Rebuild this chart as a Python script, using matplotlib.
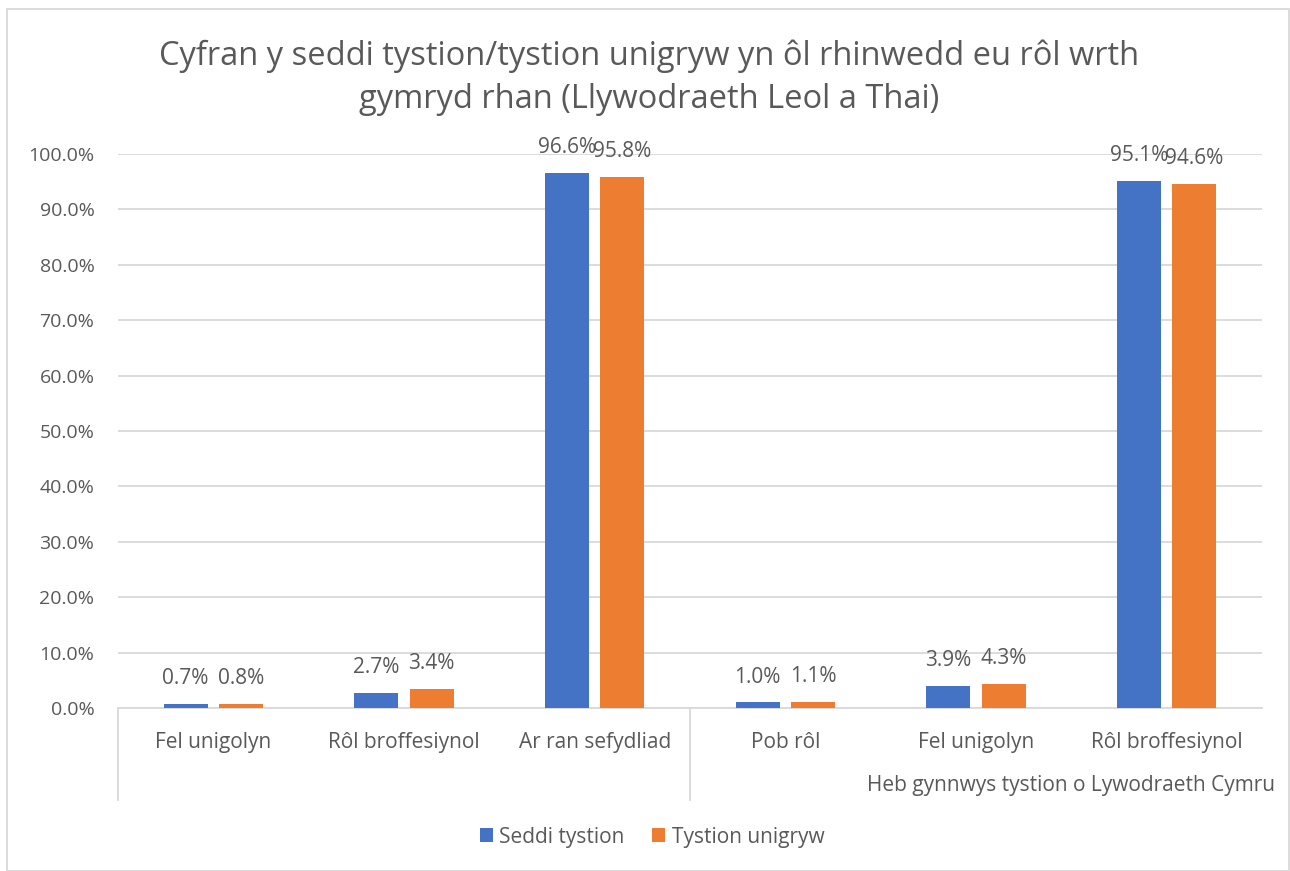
import numpy as np
import matplotlib.pyplot as plt
from matplotlib.patches import Rectangle
from matplotlib.lines import Line2D
import matplotlib.transforms as mtransforms

# data
categories = ["Fel unigolyn", "Rôl broffesiynol", "Ar ran sefydliad",
              "Pob rôl", "Fel unigolyn", "Rôl broffesiynol"]
group_labels = ["", "Heb gynnwys tystion o Lywodraeth Cymru"]
seddi = [0.7, 2.7, 96.6, 1.0, 3.9, 95.1]
unigryw = [0.8, 3.4, 95.8, 1.1, 4.3, 94.6]
series_names = ["Seddi tystion", "Tystion unigryw"]

blue = "#4472C4"
orange = "#ED7D31"
txt = "#595959"
grid = "#D9D9D9"

plt.rcParams['font.family'] = ['Open Sans', 'DejaVu Sans']

W, H = 1290, 871
fig = plt.figure(figsize=(W / 100, H / 100), dpi=100)
# plot area in pixels: x 118..1262, y 154..708
ax = fig.add_axes([118 / W, 1 - 708 / H, (1262 - 118) / W, (708 - 154) / H])

x = np.arange(len(categories))
bw = 0.23
off = 0.145
b1 = ax.bar(x - off, seddi, bw, color=blue, zorder=3)
b2 = ax.bar(x + off, unigryw, bw, color=orange, zorder=3)

for bars, vals in [(b1, seddi), (b2, unigryw)]:
    for r, v in zip(bars, vals):
        ax.text(r.get_x() + r.get_width() / 2, v + 3.6, f"{v:.1f}%",
                ha="center", va="baseline", fontsize=15, color=txt, clip_on=False)

ax.set_xlim(-0.5, len(categories) - 0.5)
ax.set_ylim(0, 100)
ax.set_yticks(np.arange(0, 101, 10))
ax.set_yticklabels([f"{t:.1f}%" for t in np.arange(0, 101, 10)])
ax.tick_params(axis="y", length=0, pad=17, labelsize=14, labelcolor=txt)
ax.set_xticks(x)
ax.set_xticklabels(categories)
ax.tick_params(axis="x", length=0, pad=17, labelsize=15, labelcolor=txt)
ax.yaxis.grid(True, color=grid, linewidth=1.3, zorder=0)
ax.set_axisbelow(True)
for s in ["top", "right", "left"]:
    ax.spines[s].set_visible(False)
ax.spines["bottom"].set_color(grid)
ax.spines["bottom"].set_linewidth(1.3)

# second level of the category axis
trans = mtransforms.blended_transform_factory(ax.transData, fig.transFigure)
for xs in [-0.5, 2.5]:
    ax.add_line(Line2D([xs, xs], [1 - 708 / H, 1 - 800 / H], transform=trans,
                       color=grid, linewidth=1.3, clip_on=False))
fig.text(1071 / W, 1 - 785 / H, group_labels[1], ha="center", va="center",
         fontsize=15, color=txt)

# title
fig.text(649 / W, 1 - 78 / H,
         "Cyfran y seddi tystion/tystion unigryw yn ôl rhinwedd eu rôl wrth\n"
         "gymryd rhan (Llywodraeth Leol a Thai)",
         ha="center", va="center", fontsize=23.5, color=txt, linespacing=1.4)

# legend
leg = fig.legend([b1, b2], series_names, loc="center", bbox_to_anchor=(652 / W, 1 - 837 / H),
                 ncol=2, frameon=False, fontsize=15, handlelength=0.65, handleheight=0.65,
                 handletextpad=0.3, columnspacing=1.3)
for t in leg.get_texts():
    t.set_color(txt)

# chart border
fig.patches.append(Rectangle((7 / W, 0), 1 - 8 / W, 1 - 9 / H, transform=fig.transFigure,
                             fill=False, edgecolor=grid, linewidth=1.3))

fig.savefig("out.png", dpi=100)
